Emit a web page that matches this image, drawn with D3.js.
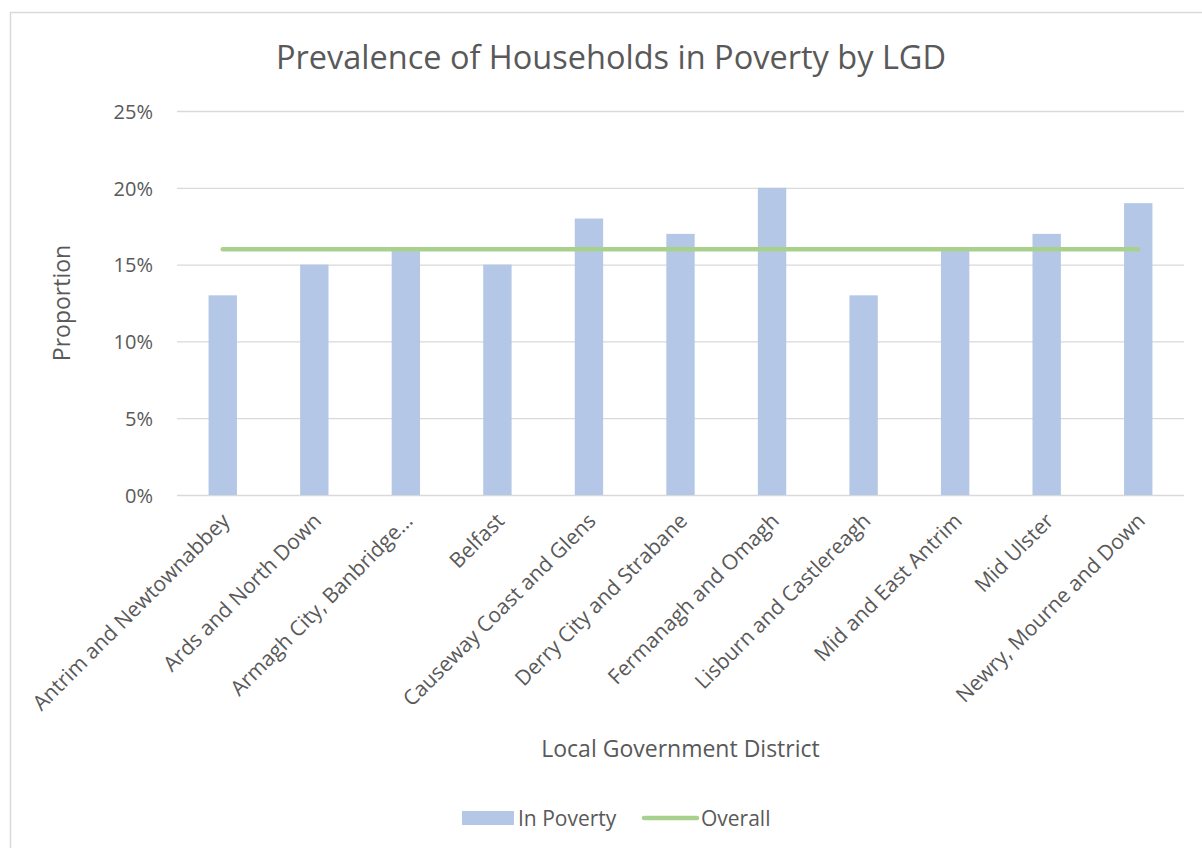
<!DOCTYPE html>
<html>
<head>
<meta charset="utf-8">
<script src="https://cdn.jsdelivr.net/npm/d3@7"></script>
<style>
  html, body { margin: 0; padding: 0; background: #fff; }
  svg { display: block; }
  svg text { font-family: "Open Sans", sans-serif; }
</style>
</head>
<body>
<svg id="chart" width="1202" height="848"></svg>
<script>
// Local Government Districts and the share of households in poverty
const districts = [
  "Antrim and Newtownabbey",
  "Ards and North Down",
  "Armagh City, Banbridge…",
  "Belfast",
  "Causeway Coast and Glens",
  "Derry City and Strabane",
  "Fermanagh and Omagh",
  "Lisburn and Castlereagh",
  "Mid and East Antrim",
  "Mid Ulster",
  "Newry, Mourne and Down"
];
const inPoverty = [0.13, 0.15, 0.16, 0.15, 0.18, 0.17, 0.20, 0.13, 0.16, 0.17, 0.19];
const overall = [0.16, 0.16, 0.16, 0.16, 0.16, 0.16, 0.16, 0.16, 0.16, 0.16, 0.16];
const yTicks = [0, 0.05, 0.10, 0.15, 0.20, 0.25];

const textColor = "#595959";
const gridColor = "#D9D9D9";
const barColor = "#B4C7E7";
const lineColor = "#A9D18E";

const svg = d3.select("#chart");

// chart frame
svg.append("rect")
  .attr("x", 10.5).attr("y", 12.5)
  .attr("width", 1220).attr("height", 860)
  .attr("fill", "#fff")
  .attr("stroke", gridColor).attr("stroke-width", 1.5);

const plot = { left: 177, right: 1184, top: 111, bottom: 495 };

const x = d3.scaleBand()
  .domain(districts)
  .range([plot.left, plot.right])
  .paddingInner(0.69).paddingOuter(0.345);

const y = d3.scaleLinear()
  .domain([0, 0.25])
  .range([plot.bottom, plot.top]);

// gridlines + y tick labels
const yAxis = d3.axisLeft(y)
  .tickValues(yTicks)
  .tickFormat(d3.format(".0%"))
  .tickSize(-(plot.right - plot.left))
  .tickPadding(24);

const gy = svg.append("g")
  .attr("transform", `translate(${plot.left},0)`)
  .call(yAxis)
  .attr("font-family", null)
  .attr("font-size", null);
gy.select(".domain").remove();
gy.selectAll(".tick line").attr("stroke", gridColor).attr("stroke-width", 1.3);
gy.selectAll(".tick text")
  .attr("fill", textColor)
  .style("font-size", "20px")
  .attr("dy", "0.36em");

// bars
svg.append("g").selectAll("rect")
  .data(districts)
  .join("rect")
  .attr("x", d => x(d))
  .attr("width", x.bandwidth())
  .attr("y", (d, i) => y(inPoverty[i]))
  .attr("height", (d, i) => y(0) - y(inPoverty[i]))
  .attr("fill", barColor);

// overall line
const line = d3.line()
  .x((d, i) => x(districts[i]) + x.bandwidth() / 2)
  .y(d => y(d));

svg.append("path")
  .datum(overall)
  .attr("d", line)
  .attr("fill", "none")
  .attr("stroke", lineColor)
  .attr("stroke-width", 4.5)
  .attr("stroke-linecap", "round");

// x axis labels, rotated
const gx = svg.append("g");
gx.selectAll("text")
  .data(districts)
  .join("text")
  .attr("transform", d => `translate(${x(d) + x.bandwidth() / 2 + 3},${plot.bottom + 22}) rotate(-45)`)
  .attr("text-anchor", "end")
  .attr("dy", "0.35em")
  .attr("fill", textColor)
  .style("font-size", "21px")
  .text(d => d);

// titles
svg.append("text")
  .attr("x", 611).attr("y", 69)
  .attr("text-anchor", "middle")
  .attr("fill", textColor)
  .style("font-size", "32.5px")
  .text("Prevalence of Households in Poverty by LGD");

svg.append("text")
  .attr("transform", `translate(70,${(plot.top + plot.bottom) / 2}) rotate(-90)`)
  .attr("text-anchor", "middle")
  .attr("fill", textColor)
  .style("font-size", "23px")
  .text("Proportion");

svg.append("text")
  .attr("x", (plot.left + plot.right) / 2).attr("y", 757)
  .attr("text-anchor", "middle")
  .attr("fill", textColor)
  .style("font-size", "23px")
  .text("Local Government District");

// legend
const legend = svg.append("g");
legend.append("rect")
  .attr("x", 462).attr("y", 811).attr("width", 52).attr("height", 14)
  .attr("fill", barColor);
legend.append("text")
  .attr("x", 518).attr("y", 826)
  .attr("fill", textColor).style("font-size", "21px")
  .text("In Poverty");
legend.append("line")
  .attr("x1", 644).attr("x2", 697).attr("y1", 818).attr("y2", 818)
  .attr("stroke", lineColor).attr("stroke-width", 4.5)
  .attr("stroke-linecap", "round");
legend.append("text")
  .attr("x", 701).attr("y", 826)
  .attr("fill", textColor).style("font-size", "21px")
  .text("Overall");
</script>
</body>
</html>
